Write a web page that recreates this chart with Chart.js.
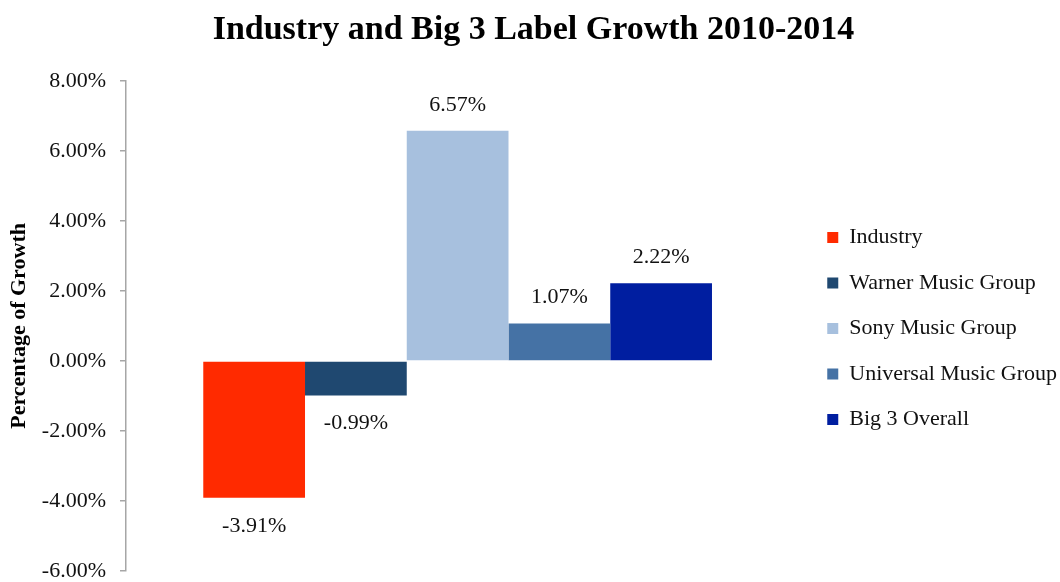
<!DOCTYPE html>
<html>
<head>
<meta charset="utf-8">
<script src="https://cdn.jsdelivr.net/npm/chart.js@4.4.1/dist/chart.umd.min.js"></script>
<style>
html,body{margin:0;padding:0;background:#fff;}
#wrap{width:1060px;height:582px;}
</style>
</head>
<body>
<div id="wrap"><canvas id="c"></canvas></div>
<script>
const categories = [""];
const seriesNames = ["Industry", "Warner Music Group", "Sony Music Group", "Universal Music Group", "Big 3 Overall"];
const seriesValues = [-3.91, -0.99, 6.57, 1.07, 2.22];
const seriesColors = ["#FF2A00", "#1F4870", "#A7C0DE", "#4572A5", "#001EA0"];
const yTicks = [-6, -4, -2, 0, 2, 4, 6, 8];

const FONT = "'Liberation Serif', 'DejaVu Serif', serif";

const valueLabels = {
  id: 'valueLabels',
  afterDatasetsDraw(chart) {
    const ctx = chart.ctx;
    ctx.save();
    ctx.font = "22px " + FONT;
    ctx.fillStyle = "#111";
    ctx.textAlign = "center";
    ctx.textBaseline = "middle";
    chart.data.datasets.forEach((ds, i) => {
      const meta = chart.getDatasetMeta(i);
      meta.data.forEach((el, j) => {
        const v = ds.data[j];
        const y = v >= 0 ? el.y - 26 : el.y + 28;
        ctx.fillText(v.toFixed(2) + "%", el.x, y);
      });
    });
    ctx.restore();
  }
};

new Chart(document.getElementById('c'), {
  type: 'bar',
  data: {
    labels: categories,
    datasets: seriesNames.map((n, i) => ({
      label: n,
      data: [seriesValues[i]],
      backgroundColor: seriesColors[i],
      borderWidth: 0,
      barPercentage: 1,
      categoryPercentage: 0.767
    }))
  },
  options: {
    responsive: true,
    maintainAspectRatio: false,
    animation: false,
    devicePixelRatio: 1,
    layout: { padding: { top: 0, right: -7, bottom: 11, left: 0 } },
    plugins: {
      title: {
        display: true,
        text: "Industry and Big 3 Label Growth 2010-2014",
        font: { family: FONT, size: 34, weight: 'bold' },
        color: "#000",
        padding: { top: 10, bottom: 30 }
      },
      legend: {
        position: 'right',
        maxWidth: 400,
        title: { display: true, text: " ", font: { size: 10 }, padding: { top: 37, bottom: 37 } },
        labels: {
          font: { family: FONT, size: 22 },
          color: "#111",
          boxWidth: 11,
          boxHeight: 11,
          padding: 23.5
        }
      },
      tooltip: { enabled: false }
    },
    scales: {
      x: { display: false },
      y: {
        min: -6, max: 8,
        afterBuildTicks(scale) { scale.ticks = yTicks.map(v => ({ value: v })); },
        afterFit(scale) { scale.width = 126; scale.paddingTop = 0; scale.paddingBottom = 0; },
        ticks: {
          font: { family: FONT, size: 22 },
          color: "#111",
          padding: 14,
          callback: v => v.toFixed(2) + "%"
        },
        grid: { drawOnChartArea: false, drawTicks: true, tickLength: 6, color: "#A6A6A6", lineWidth: 1.5 },
        border: { display: true, color: "#A6A6A6", width: 1.5 },
        title: {
          display: true,
          text: "Percentage of Growth",
          font: { family: FONT, size: 22, weight: 'bold' },
          color: "#000",
          padding: { top: 6, bottom: 0 }
        }
      },
      gap: {
        type: 'linear',
        position: 'right',
        display: true,
        afterFit(scale) { scale.width = 14.5; scale.paddingTop = 0; scale.paddingBottom = 0; },
        grid: { display: false, drawTicks: false },
        border: { display: false },
        ticks: { display: false }
      }
    }
  },
  plugins: [valueLabels]
});
</script>
</body>
</html>
